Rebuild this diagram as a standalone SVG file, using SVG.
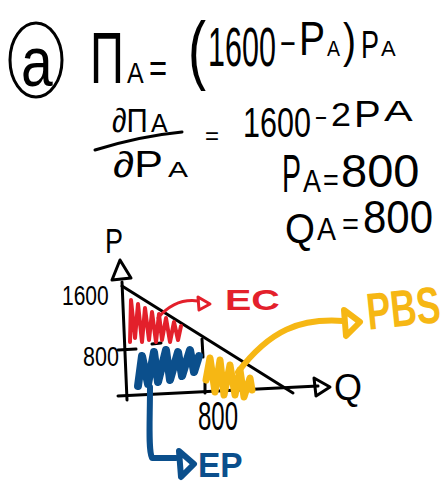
<svg xmlns="http://www.w3.org/2000/svg" width="445" height="484" viewBox="0 0 445 484">
<style>
.t{font-family:"Liberation Sans","DejaVu Sans",sans-serif;fill:#000}
.ink{fill:none;stroke:#000;stroke-width:3;stroke-linecap:round;stroke-linejoin:round}
.red{fill:none;stroke:#E3202B;stroke-linecap:round;stroke-linejoin:round}
.blue{fill:none;stroke:#0B4F8C;stroke-linecap:round;stroke-linejoin:round}
.yel{fill:none;stroke:#F6B714;stroke-linecap:round;stroke-linejoin:round}
.lab{font-family:"Liberation Sans","DejaVu Sans",sans-serif;font-weight:bold}
</style>
<rect width="445" height="484" fill="#fff"/>

<g id="part-label">
<ellipse cx="36" cy="60" rx="26" ry="37" class="ink"/>
<text class="t" transform="translate(21,86) scale(1,1.22)" font-size="57">a</text>
</g>

<g id="eq-profit">
<text class="t" transform="translate(90,83) scale(1,1.53)" font-size="47">Π</text>
<text class="t" transform="translate(127,83) scale(1,1.18)" font-size="25">A</text>
<text class="t" transform="translate(149,82) scale(1,1.29)" font-size="31">=</text>
<text class="t" transform="translate(188,75) scale(1,1.39)" font-size="54">(</text>
<text class="t" transform="translate(208,66) scale(1,1.83)" font-size="30.5">1600</text>
<text class="t" transform="translate(280,57) scale(1,1.46)" font-size="27">−</text>
<text class="t" transform="translate(299,55) scale(1,1.23)" font-size="39">P</text>
<text class="t" transform="translate(327,56) scale(1,1.13)" font-size="19.5">A</text>
<text class="t" transform="translate(343,57) scale(1,1.23)" font-size="39">)</text>
<text class="t" transform="translate(361,58) scale(1,1.41)" font-size="27">P</text>
<text class="t" transform="translate(381,56)" font-size="22">A</text>
</g>

<g id="eq-derivative">
<text class="t" transform="translate(112,132) scale(1,1.15)" font-size="29.5">∂Π</text>
<text class="t" transform="translate(151,132)" font-size="25">A</text>
<path class="ink" d="M95,150 Q140,136 182,132"/>
<text class="t" transform="translate(113,177) scale(1,0.84)" font-size="43">∂P</text>
<text class="t" transform="translate(168,177) scale(1,0.73)" font-size="30">A</text>
<text class="t" transform="translate(205,144)" font-size="24">=</text>
<text class="t" transform="translate(243,137) scale(1,1.37)" font-size="30.5">1600</text>
<text class="t" transform="translate(315,128) scale(1,1.46)" font-size="20.5">−</text>
<text class="t" transform="translate(331,126) scale(1,0.94)" font-size="36">2</text>
<text class="t" transform="translate(354,127) scale(1,0.94)" font-size="40">P</text>
<text class="t" transform="translate(384,121) scale(1,0.69)" font-size="43">A</text>
</g>

<g id="eq-price">
<text class="t" transform="translate(282,192) scale(1,1.89)" font-size="28.5">P</text>
<text class="t" transform="translate(303,192) scale(1,1.19)" font-size="27">A</text>
<text class="t" transform="translate(323,190) scale(1,1.1)" font-size="27">=</text>
<text class="t" transform="translate(341,187)" font-size="47">800</text>
</g>

<g id="eq-quantity">
<text class="t" transform="translate(285,243) scale(1,1.09)" font-size="38.5">Q</text>
<text class="t" transform="translate(317,240) scale(1,1.12)" font-size="28.5">A</text>
<text class="t" transform="translate(342,234)" font-size="29">=</text>
<text class="t" transform="translate(363,233) scale(1,1.1)" font-size="42">800</text>
</g>

<g id="graph-axes">
<text class="t" transform="translate(105,253) scale(1,1.33)" font-size="27">P</text>
<path class="ink" d="M112,280 L120,260 L131,278 Z"/>
<path class="ink" d="M122,282 L127,400"/>
<path class="ink" d="M118,396 L318,386"/>
<path class="ink" d="M314,378 L330,387 L316,396 Z"/>
<text class="t" transform="translate(334,400) scale(1,1.05)" font-size="36">Q</text>
<text class="t" transform="translate(62,305) scale(1,1.28)" font-size="21">1600</text>
<text class="t" transform="translate(83,366) scale(1,1.3)" font-size="21.5">800</text>
<path class="ink" stroke-width="2.5" d="M118,350 L136,349 M152,344 L161,343 M202,339 L203,357 M205,383 L205,393"/>
<text class="t" transform="translate(198,430) scale(1,1.67)" font-size="24">800</text>
</g>

<g id="demand-line">
<path class="ink" d="M122,286 L293,393"/>
</g>

<g id="area-red">
<path class="red" stroke-width="4" d="M130,342 L131,300 L135,338 L138,304 L142,342 L145,308 L149,340 L152,312 L156,342 L159,314 L162,340 L166,318 L170,342 L174,322 L178,340 L181,326"/>
</g>
<g id="area-blue">
<path class="blue" stroke-width="8" d="M138,386 L142,356 L148,384 L154,352 L158,382 L166,350 L170,380 L178,352 L182,376 L190,350 L194,372 L199,356"/>
</g>
<g id="area-yellow">
<path class="yel" stroke-width="7" d="M206,380 L210,358 L215,392 L220,360 L224,395 L230,365 L235,395 L240,370 L244,397 L250,378 L252,390"/>
</g>

<g id="connectors">
<path class="red" stroke-width="3" d="M158,318 Q175,298 198,301"/>
<path class="red" stroke-width="3" d="M198,297 L210,304 L199,310 Z"/>
<path class="yel" stroke-width="6" d="M238,372 C270,330 300,318 343,321"/>
<path class="yel" stroke-width="6" d="M344,310 L360,322 L346,336 Z"/>
<path class="blue" stroke-width="6" d="M150,387 C150,420 148,450 152,458 L176,458"/>
<path class="blue" stroke-width="6" d="M179,451 L194,464 L181,477 Z"/>
</g>

<g id="label-ec">
<text class="lab" transform="translate(225,310) scale(1,0.76)" font-size="39.5" fill="#E3202B">EC</text>
</g>
<g id="label-pbs">
<text class="lab" transform="rotate(-6 403 305) translate(366,326) scale(1,1.44)" font-size="36" fill="#F6B714">PBS</text>
</g>
<g id="label-ep">
<text class="lab" transform="translate(198,477) scale(1,1.07)" font-size="33.5" fill="#0B4F8C">EP</text>
</g>
</svg>
